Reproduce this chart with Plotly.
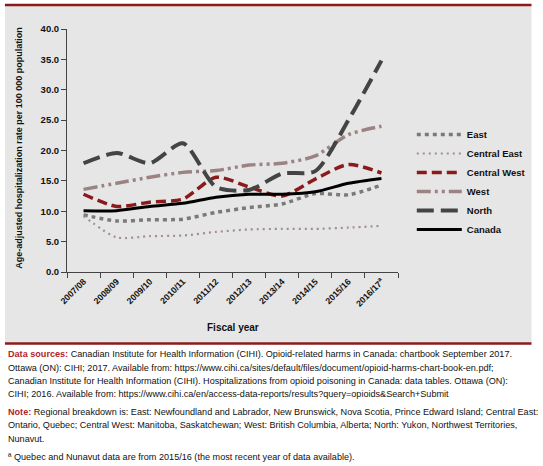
import plotly.graph_objects as go

years = ["2007/08", "2008/09", "2009/10", "2010/11", "2011/12", "2012/13",
         "2013/14", "2014/15", "2015/16", "2016/17<sup>a</sup>"]
east = [9.4, 8.4, 8.6, 8.7, 9.8, 10.6, 11.2, 12.9, 12.7, 14.3]
central_east = [9.2, 5.7, 5.9, 6.0, 6.6, 7.0, 7.1, 7.1, 7.3, 7.6]
central_west = [12.8, 10.8, 11.5, 12.0, 15.6, 14.0, 12.5, 15.3, 17.7, 16.3]
west = [13.6, 14.6, 15.6, 16.4, 16.7, 17.6, 17.9, 19.1, 22.6, 24.0]
north = [17.9, 19.6, 17.9, 21.2, 14.0, 13.5, 16.2, 16.6, 25.0, 34.8]
canada = [10.1, 10.1, 10.8, 11.3, 12.3, 12.8, 12.8, 13.2, 14.6, 15.4]

FONT = "Liberation Sans, Arial, sans-serif"
RED = "#8b1a1a"
LABEL_RED = "#b3232b"
BG = "#e6e6e6"

series = [
    ("East", east, "#7a7a7a", 3.5, "4px,4px"),
    ("Central East", central_east, "#a38e8e", 2.2, "2px,4px"),
    ("Central West", central_west, RED, 3.5, "10px,5px"),
    ("West", west, "#9c8383", 3.5, "14px,4px,3px,4px,3px,4px"),
    ("North", north, "#444444", 4, "17px,7px"),
    ("Canada", canada, "#000000", 3, "solid"),
]

fig = go.Figure()
for name, vals, color, width, dash in series:
    fig.add_trace(go.Scatter(
        x=years, y=vals, name=name, mode="lines",
        line=dict(color=color, width=width, dash=dash, shape="spline", smoothing=0.7),
    ))

# plot area in pixels: x 67..403, y 29..272
L, R, T, B = 67, 403, 29, 272
W, H = R - L, B - T

def px_x(p):
    return (p - L) / W

def px_y(p):
    return (B - p) / H

shapes = [
    dict(type="rect", xref="paper", yref="paper", x0=px_x(4), x1=px_x(538.5),
         y0=px_y(342.5), y1=px_y(6), fillcolor=BG, line=dict(width=0), layer="below"),
    dict(type="line", xref="paper", yref="paper", x0=px_x(4), x1=px_x(538.5),
         y0=px_y(5), y1=px_y(5), line=dict(color=RED, width=2.5)),
    dict(type="line", xref="paper", yref="paper", x0=px_x(4), x1=px_x(538.5),
         y0=px_y(343.5), y1=px_y(343.5), line=dict(color=RED, width=2.5)),
]

notes = [
    (354, "<span style='color:%s'><b>Data sources:</b></span> Canadian Institute for Health Information (CIHI). Opioid-related harms in Canada: chartbook September 2017." % LABEL_RED),
    (367.5, "Ottawa (ON): CIHI; 2017. Available from: https://www.cihi.ca/sites/default/files/document/opioid-harms-chart-book-en.pdf;"),
    (381, "Canadian Institute for Health Information (CIHI). Hospitalizations from opioid poisoning in Canada: data tables. Ottawa (ON):"),
    (394.5, "CIHI; 2016. Available from: https://www.cihi.ca/en/access-data-reports/results?query=opioids&Search+Submit"),
    (412, "<span style='color:%s'><b>Note:</b></span> Regional breakdown is: East: Newfoundland and Labrador, New Brunswick, Nova Scotia, Prince Edward Island; Central East:" % LABEL_RED),
    (425.5, "Ontario, Quebec; Central West: Manitoba, Saskatchewan; West: British Columbia, Alberta; North: Yukon, Northwest Territories,"),
    (439, "Nunavut."),
    (457, "ª Quebec and Nunavut data are from 2015/16 (the most recent year of data available)."),
]

annotations = [
    dict(text="<b>Fiscal year</b>", xref="paper", yref="paper", x=px_x(235), y=px_y(327),
         showarrow=False, font=dict(family=FONT, size=10, color="#111"),
         xanchor="center", yanchor="middle"),
    dict(text="<b>Age-adjusted hospitalization rate per 100 000 population</b>",
         xref="paper", yref="paper", x=px_x(18), y=px_y(148), textangle=-90,
         showarrow=False, font=dict(family=FONT, size=9, color="#111"),
         xanchor="center", yanchor="middle"),
]
for ypx, txt in notes:
    annotations.append(dict(text=txt, xref="paper", yref="paper", x=px_x(5), y=px_y(ypx),
                            showarrow=False, xanchor="left", yanchor="middle", align="left",
                            font=dict(family=FONT, size=9.1, color="#111")))

fig.update_layout(
    width=543, height=466,
    margin=dict(l=L, r=543 - R, t=T, b=466 - B, pad=0),
    paper_bgcolor="white", plot_bgcolor=BG,
    font=dict(family=FONT, color="#111"),
    shapes=shapes, annotations=annotations,
    legend=dict(x=px_x(417), y=px_y(120), xanchor="left", yanchor="top",
                bgcolor="rgba(0,0,0,0)", font=dict(family=FONT, size=9.5, color="#111", weight="bold"),
                itemwidth=45, tracegroupgap=0),
    xaxis=dict(type="category", range=[-0.5, 9.5], tickson="boundaries", ticks="outside",
               ticklen=5, tickcolor="#444", showline=True, linecolor="#444", linewidth=1,
               showgrid=False, zeroline=False, tickangle=-45,
               tickfont=dict(family=FONT, size=8.8, color="#111", weight="bold")),
    yaxis=dict(range=[0, 40], tickvals=[0, 5, 10, 15, 20, 25, 30, 35, 40], tickformat=".1f",
               ticks="outside", ticklen=5, tickcolor="#444", showline=True, linecolor="#444",
               linewidth=1, showgrid=False, zeroline=False,
               tickfont=dict(family=FONT, size=9.5, color="#111", weight="bold")),
    showlegend=True,
)

fig.write_html("out.html", config={"displayModeBar": False},
               post_script="document.body.style.margin='0';")
